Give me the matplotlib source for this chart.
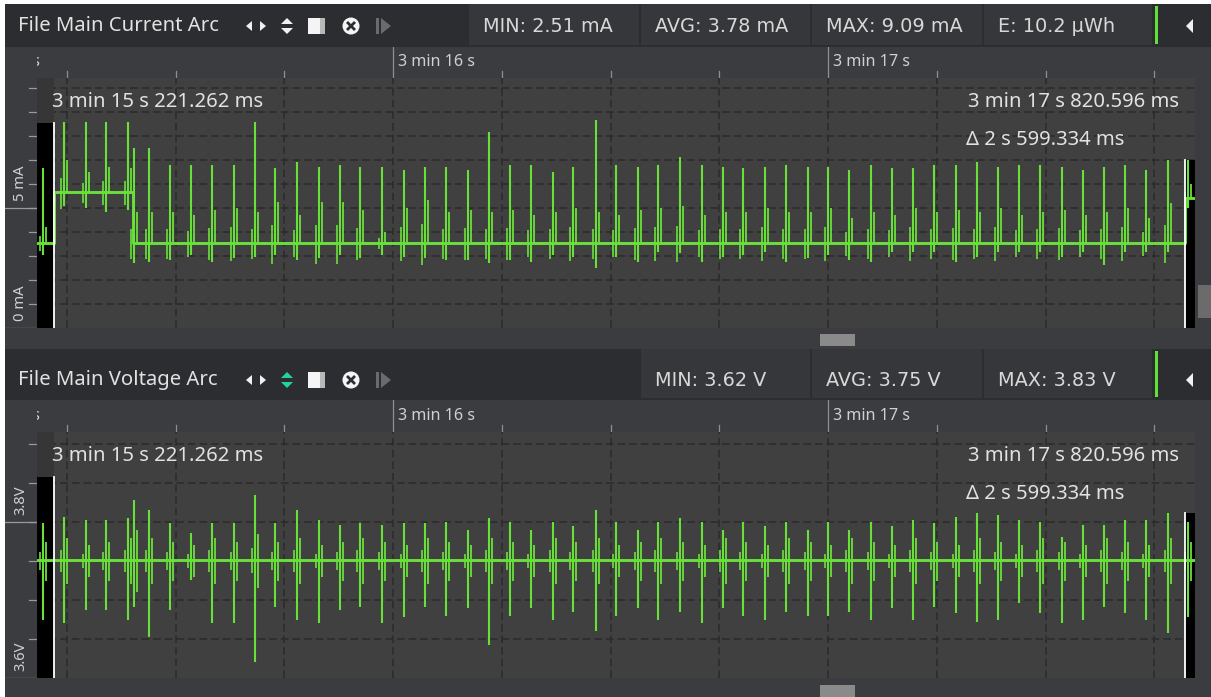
import matplotlib
matplotlib.use("Agg")
import matplotlib.pyplot as plt
import numpy as np
from matplotlib.patches import Rectangle, Polygon, Circle
import matplotlib.transforms as mtransforms

# ---------------- data ----------------
# event times in seconds after 3 min (shared by both channels)
ev_t = [15.195, 15.2437, 15.2943, 15.3402, 15.3908, 15.4046, 15.4391, 15.4874, 15.5356, 15.5839,
        15.6345, 15.6828, 15.7287, 15.7793, 15.8299, 15.8782, 15.9241, 15.9747, 16.0253, 16.0736,
        16.1218, 16.1724, 16.2207, 16.2690, 16.3172, 16.3678, 16.4138, 16.4667, 16.5126, 16.5632,
        16.6092, 16.6598, 16.7103, 16.7586, 16.8046, 16.8552, 16.9034, 16.9540, 17.0000, 17.0483,
        17.0989, 17.1471, 17.1954, 17.2437, 17.2943, 17.3425, 17.3908, 17.4391, 17.4874, 17.5379,
        17.5862, 17.6345, 17.6828, 17.7310, 17.7816, 17.8276]

# current channel (mA)
cur_level_t = [15.17, 15.2213, 15.4020, 17.8206]
cur_level = [3.54, 5.65, 3.54, 5.40]
cur_hi = [6.67, 8.58, 8.58, 8.58, 8.58, 7.5, 7.5, 6.79, 6.79, 6.79,
          6.79, 8.58, 6.67, 6.92, 6.71, 6.79, 6.71, 6.71, 6.58, 6.71,
          6.71, 6.58, 8.17, 6.79, 6.79, 6.5, 6.71, 8.67, 6.79, 6.71,
          6.79, 7.13, 6.79, 6.71, 6.67, 6.71, 6.79, 6.71, 6.71, 6.58,
          6.79, 6.67, 6.67, 6.79, 6.79, 6.92, 6.71, 6.79, 6.79, 6.71,
          6.58, 6.71, 6.79, 6.58, 7.0, 7.0]
cur_sub = [4.2, 7.0, 6.5, 6.7, 6.67, 4.83, 4.83, 4.83, 4.7, 4.92,
           5.0, 4.83, 5.25, 4.71, 5.25, 5.25, 4.92, 4.0, 5.0, 5.33,
           4.83, 4.92, 4.83, 4.92, 4.71, 4.83, 5.0, 4.83, 4.71, 4.92,
           5.0, 5.1, 4.71, 4.83, 4.83, 5.0, 4.83, 4.83, 5.0, 4.6,
           4.83, 4.71, 5.0, 4.83, 4.92, 4.83, 5.0, 4.71, 4.83, 4.92,
           4.71, 4.83, 5.0, 4.6, 5.2, 6.0]
cur_sub2 = [3.9, 6.2, 6.0, 6.1, 6.0, 4.3, 4.1, 4.4, 4.0, 4.2,
            4.3, 4.1, 4.4, 4.0, 4.2, 4.5, 4.1, 4.3, 4.0, 4.2,
            4.4, 4.1, 4.3, 4.0, 4.2, 4.4, 4.1, 4.3, 4.0, 4.2,
            4.4, 4.1, 4.3, 4.0, 4.2, 4.4, 4.1, 4.3, 4.0, 4.2,
            4.4, 4.1, 4.3, 4.0, 4.2, 4.4, 4.1, 4.3, 4.0, 4.2,
            4.4, 4.1, 4.3, 4.0, 4.2, 5.8]
cur_lo = [3.04, 5.1, 5.0, 4.83, 4.9, 2.71, 2.75, 2.83, 3.04, 2.75,
          2.92, 2.96, 3.04, 2.83, 2.92, 3.04, 2.92, 3.04, 2.96, 2.92,
          2.83, 2.83, 2.71, 2.83, 2.75, 3.04, 2.96, 2.5, 2.96, 2.75,
          3.17, 3.13, 2.75, 2.96, 3.04, 3.17, 2.75, 2.92, 3.04, 2.83,
          2.75, 3.17, 3.17, 3.17, 2.75, 2.96, 3.17, 3.17, 3.17, 2.96,
          3.17, 2.63, 3.17, 3.17, 3.17, 5.0]

# voltage channel (V)
vol_level_t = [15.17]
vol_level = [3.751]
vol_hi = [3.7987, 3.8064, 3.8026, 3.8026, 3.8051, 3.8282, 3.8154, 3.7987, 3.7859, 3.7987,
          3.7987, 3.8346, 3.7987, 3.8154, 3.8026, 3.7962, 3.7987, 3.7962, 3.7987, 3.7987,
          3.800, 3.790, 3.805, 3.800, 3.790, 3.800, 3.795, 3.815, 3.800, 3.790,
          3.800, 3.805, 3.800, 3.790, 3.800, 3.795, 3.800, 3.790, 3.800, 3.790,
          3.800, 3.795, 3.8026, 3.7987, 3.8064, 3.8115, 3.8090, 3.8026, 3.800, 3.7808,
          3.7962, 3.7962, 3.8026, 3.8026, 3.8115, 3.800]
vol_lo = [3.6744, 3.6705, 3.6872, 3.6872, 3.6744, 3.6910, 3.6526, 3.6872, 3.7256, 3.6705,
          3.6705, 3.6205, 3.6910, 3.6744, 3.6705, 3.6872, 3.6910, 3.6705, 3.6782, 3.6910,
          3.680, 3.690, 3.6423, 3.680, 3.690, 3.675, 3.685, 3.660, 3.680, 3.690,
          3.675, 3.685, 3.670, 3.690, 3.680, 3.675, 3.685, 3.680, 3.680, 3.685,
          3.675, 3.690, 3.6744, 3.6910, 3.6833, 3.6718, 3.6744, 3.6962, 3.6833, 3.6705,
          3.6744, 3.6910, 3.6833, 3.6744, 3.6577, 3.6782]
vol_sub_hi = [3.775, 3.78, 3.77, 3.775, 3.78, 3.79, 3.78, 3.775, 3.77, 3.78,
              3.775, 3.785, 3.775, 3.78, 3.77, 3.775, 3.78, 3.775, 3.77, 3.78,
              3.775, 3.77, 3.78, 3.775, 3.77, 3.78, 3.775, 3.78, 3.77, 3.775,
              3.78, 3.775, 3.77, 3.78, 3.775, 3.77, 3.78, 3.775, 3.77, 3.78,
              3.775, 3.77, 3.78, 3.775, 3.77, 3.78, 3.775, 3.77, 3.78, 3.775,
              3.77, 3.78, 3.775, 3.77, 3.78, 3.775]
vol_sub_lo = [3.725, 3.72, 3.73, 3.725, 3.72, 3.71, 3.72, 3.725, 3.73, 3.72,
              3.725, 3.715, 3.725, 3.72, 3.73, 3.725, 3.72, 3.725, 3.73, 3.72,
              3.725, 3.73, 3.72, 3.725, 3.73, 3.72, 3.725, 3.72, 3.73, 3.725,
              3.72, 3.725, 3.73, 3.72, 3.725, 3.73, 3.72, 3.725, 3.73, 3.72,
              3.725, 3.73, 3.72, 3.725, 3.73, 3.72, 3.725, 3.73, 3.72, 3.725,
              3.73, 3.72, 3.725, 3.73, 3.72, 3.725]

cursor_a = 15.221262
cursor_b = 17.820596
cur_stats = ["MIN: 2.51 mA", "AVG: 3.78 mA", "MAX: 9.09 mA", "E: 10.2 µWh"]
vol_stats = ["MIN: 3.62 V", "AVG: 3.75 V", "MAX: 3.83 V"]
cursor_texts = ["3 min 15 s 221.262 ms", "3 min 17 s 820.596 ms", "Δ 2 s 599.334 ms"]
time_major = [15, 16, 17]
time_labels = ["3 min 15 s", "3 min 16 s", "3 min 17 s"]

# ---------------- style ----------------
W, H = 1211, 697
BG = "#3b3c40"
HEAD = "#2c2d31"
CELL = "#36373b"
PLOT = "#404040"
GRIDC = "#2b2b2b"
GREEN = "#69e03a"
TXT = "#e2e2e2"
UI = "Noto Sans"

fig = plt.figure(figsize=(W / 100, H / 100), dpi=100)
fig.patch.set_facecolor(BG)
base = fig.add_axes([0, 0, 1, 1])
base.set_xlim(0, W)
base.set_ylim(H, 0)
base.axis("off")


def rect(x0, y0, x1, y1):
    return [x0 / W, 1 - y1 / H, (x1 - x0) / W, (y1 - y0) / H]


def box(x0, y0, x1, y1, c, z=1, ax=None):
    (ax or base).add_patch(Rectangle((x0, y0), x1 - x0, y1 - y0, facecolor=c, edgecolor="none", zorder=z))


PX_PER_S = 435.0
T0 = 16 + (37 - 393) / PX_PER_S
T1 = 16 + (1195 - 393) / PX_PER_S


def header(y0, y1, yc, title, stats, cells, green_icon):
    box(5, y0, W, y1, HEAD)
    for i, (cx0, cx1) in enumerate(cells):
        box(cx0 + 1, max(y0, 4), cx1 - 1, y1 - 2, CELL, 2)
        base.text(cx0 + 15, yc + 1, stats[i], color="#d8d8d8", fontsize=13.9,
                  family="DejaVu Sans", va="center", ha="left", zorder=3)
    base.text(18, yc, title, color=TXT, fontsize=14.6, family=UI, va="center", ha="left", zorder=3)
    # icons
    wc = "#f0f0f0"
    base.add_patch(Polygon([[246, yc], [252, yc - 5], [252, yc + 5]], closed=True, fc=wc, ec="none", zorder=3))
    base.add_patch(Polygon([[266, yc], [260, yc - 5], [260, yc + 5]], closed=True, fc=wc, ec="none", zorder=3))
    ic = "#25d39a" if green_icon else wc
    base.add_patch(Polygon([[281, yc - 2], [293, yc - 2], [287, yc - 8]], closed=True, fc=ic, ec="none", zorder=3))
    base.add_patch(Polygon([[281, yc + 2], [293, yc + 2], [287, yc + 8]], closed=True, fc=ic, ec="none", zorder=3))
    box(308, yc - 8, 320, yc + 8, "#f4f4f4", 3)
    box(320, yc - 8, 325, yc + 8, "#b8b8b8", 3)
    base.add_patch(Circle((351, yc), 8.5, fc="#f4f4f4", ec="none", zorder=3))
    base.plot([347, 355], [yc - 4, yc + 4], color=HEAD, lw=2.0, zorder=4, solid_capstyle="butt")
    base.plot([347, 355], [yc + 4, yc - 4], color=HEAD, lw=2.0, zorder=4, solid_capstyle="butt")
    box(376, yc - 8, 379, yc + 8, "#6a6b6e", 3)
    base.add_patch(Polygon([[381, yc - 8], [381, yc + 8], [391, yc]], closed=True, fc="#6a6b6e", ec="none", zorder=3))
    # right side
    box(1155, max(y0, 4) + 2, 1158, y1 - 3, "#5fe03a", 3)
    base.add_patch(Polygon([[1186, yc], [1193, yc - 7], [1193, yc + 7]], closed=True, fc=wc, ec="none", zorder=3))


def panel(ytick0, yplot0, yplot1, ylim, lvl_t, lvl_v, hi, lo, sub_hi, sub_lo, ymajor, ylabels, yminor,
          black_a, black_b, thumb_y):
    # time tick strip
    tax = fig.add_axes(rect(37, ytick0, 1195, yplot0))
    tax.set_xlim(T0, T1)
    tax.set_ylim(0, 1)
    tax.axis("off")
    for tm in np.arange(15, 18.01, 0.25):
        if abs(tm - round(tm)) < 1e-6:
            tax.plot([tm, tm], [0, 1], color="#8e8f92", lw=0.9, clip_on=True)
        else:
            tax.plot([tm, tm], [0, 0.22], color="#8e8f92", lw=0.9, clip_on=True)
    off = mtransforms.offset_copy(tax.transData, fig=fig, x=5, y=0, units="dots")
    for tm, lab in zip(time_major, time_labels):
        t = tax.text(tm, 0.5, lab, transform=off, color="#d0d0d0", fontsize=11.6, family=UI,
                     va="center", ha="left", clip_on=True)
        t.set_clip_box(tax.bbox)

    ax = fig.add_axes(rect(37, yplot0, 1195, yplot1))
    ax.set_facecolor(PLOT)
    ax.set_xlim(T0, T1)
    ax.set_ylim(*ylim)
    for s in ax.spines.values():
        s.set_visible(False)
    ax.set_xticks([])
    ax.set_yticks([])
    dash = (0, (5, 2.6))
    for tm in np.arange(15.25, 18.0, 0.25):
        ax.axvline(tm, color=GRIDC, lw=1.1, ls=dash, zorder=1)
    for yv in yminor:
        ax.axhline(yv, color=GRIDC, lw=1.1, ls=dash, zorder=1)
    # dark column + black strips outside cursors
    ax.axvspan(T0, cursor_a, color="#363636", zorder=2, lw=0)
    ax.add_patch(Rectangle((T0, ylim[0]), cursor_a - T0, black_a - ylim[0], fc="black", ec="none", zorder=2.5))
    ax.add_patch(Rectangle((cursor_b, ylim[0]), T1 - cursor_b, black_b - ylim[0], fc="black", ec="none", zorder=2.5))
    # trace
    lt = list(lvl_t) + [T1 + 0.1]
    lv = list(lvl_v) + [lvl_v[-1]]
    ax.step(lt, lv, where="post", color=GREEN, lw=2.1, zorder=4)
    ev = np.array(ev_t)
    basev = np.array(lvl_v)[np.searchsorted(np.array(lvl_t), ev, side="right") - 1]
    ax.vlines(ev, lo, hi, color=GREEN, lw=1.5, zorder=4)
    d = 3.0 / PX_PER_S
    sh = np.asarray(sub_hi)
    sl = np.asarray(sub_lo)
    ax.vlines(ev + d, np.minimum(basev, sl), np.maximum(basev, sh), color=GREEN, lw=1.3, zorder=4)
    ax.vlines(ev - d, basev - (sh - basev) * 0.5, basev + (sh - basev) * 0.45,
              color=GREEN, lw=1.2, zorder=4)
    # cursors
    ax.plot([cursor_a, cursor_a], [ylim[0], black_a], color="white", lw=1.3, zorder=5)
    ax.plot([cursor_b, cursor_b], [ylim[0], black_b], color="white", lw=1.3, zorder=5)
    # cursor texts (overlay)
    ypx = yplot0
    fs = 14.6
    over.text(52, ypx + 24, cursor_texts[0], color=TXT, fontsize=fs, family=UI, va="center", ha="left", zorder=6)
    over.text(1179, ypx + 24, cursor_texts[1], color=TXT, fontsize=fs, family=UI, va="center", ha="right", zorder=6)
    over.text(966, ypx + 62, cursor_texts[2], color=TXT, fontsize=fs, family=UI, va="center", ha="left", zorder=6)

    # y axis strip
    yax = fig.add_axes(rect(5, yplot0, 37, yplot1))
    yax.set_xlim(0, 32)
    yax.set_ylim(*ylim)
    yax.axis("off")
    for yv in yminor:
        yax.plot([24, 32], [yv, yv], color="#9a9a9a", lw=0.9)
    for yv, lab in zip(ymajor, ylabels):
        yax.plot([0, 32], [yv, yv], color="#9a9a9a", lw=0.9)
        yax.annotate(lab, (16, yv), xytext=(0, 7), textcoords="offset pixels", rotation=90,
                     color="#d0d0d0", fontsize=10.6, family=UI, ha="center", va="bottom")
    # horizontal scroll thumb
    box(820, thumb_y, 855, thumb_y + 12, "#8a8a8a", 3)
    return ax


over = fig.add_axes([0, 0, 1, 1], zorder=20)
over.set_xlim(0, W)
over.set_ylim(H, 0)
over.axis("off")
over.patch.set_alpha(0)

# white screenshot border
box(0, 0, W, 4, "white", 5, over)
box(0, 0, 5, H, "white", 5, over)

cells_top = [(468, 640), (640, 811), (811, 983), (983, 1153)]
cells_bot = [(640, 811), (811, 983), (983, 1153)]

header(0, 47, 26, "File Main Current Arc", cur_stats, cells_top, False)
header(349, 400, 380, "File Main Voltage Arc", vol_stats, cells_bot, True)

cur_ylim = (0, 250 / 24.0)
panel(47, 78, 328, cur_ylim, cur_level_t, cur_level, cur_hi, cur_lo, cur_sub, cur_sub2,
      [0, 5], ["0 mA", "5 mA"], np.arange(1, 11, 1.0), 8.54, 7.0, 334)

vol_ylim = (3.6, 3.6 + 246 / 780.0)
panel(400, 432, 678, vol_ylim, vol_level_t, vol_level, vol_hi, vol_lo, vol_sub_hi, vol_sub_lo,
      [3.6, 3.8], ["3.6V", "3.8V"], [3.65, 3.7, 3.75, 3.8, 3.85, 3.9], 3.8577, 3.8115, 685)

# right vertical scroll thumb (top panel)
box(1198, 285, W, 318, "#6b6b6b", 3)

fig.savefig("out.png", dpi=100, facecolor=BG)
